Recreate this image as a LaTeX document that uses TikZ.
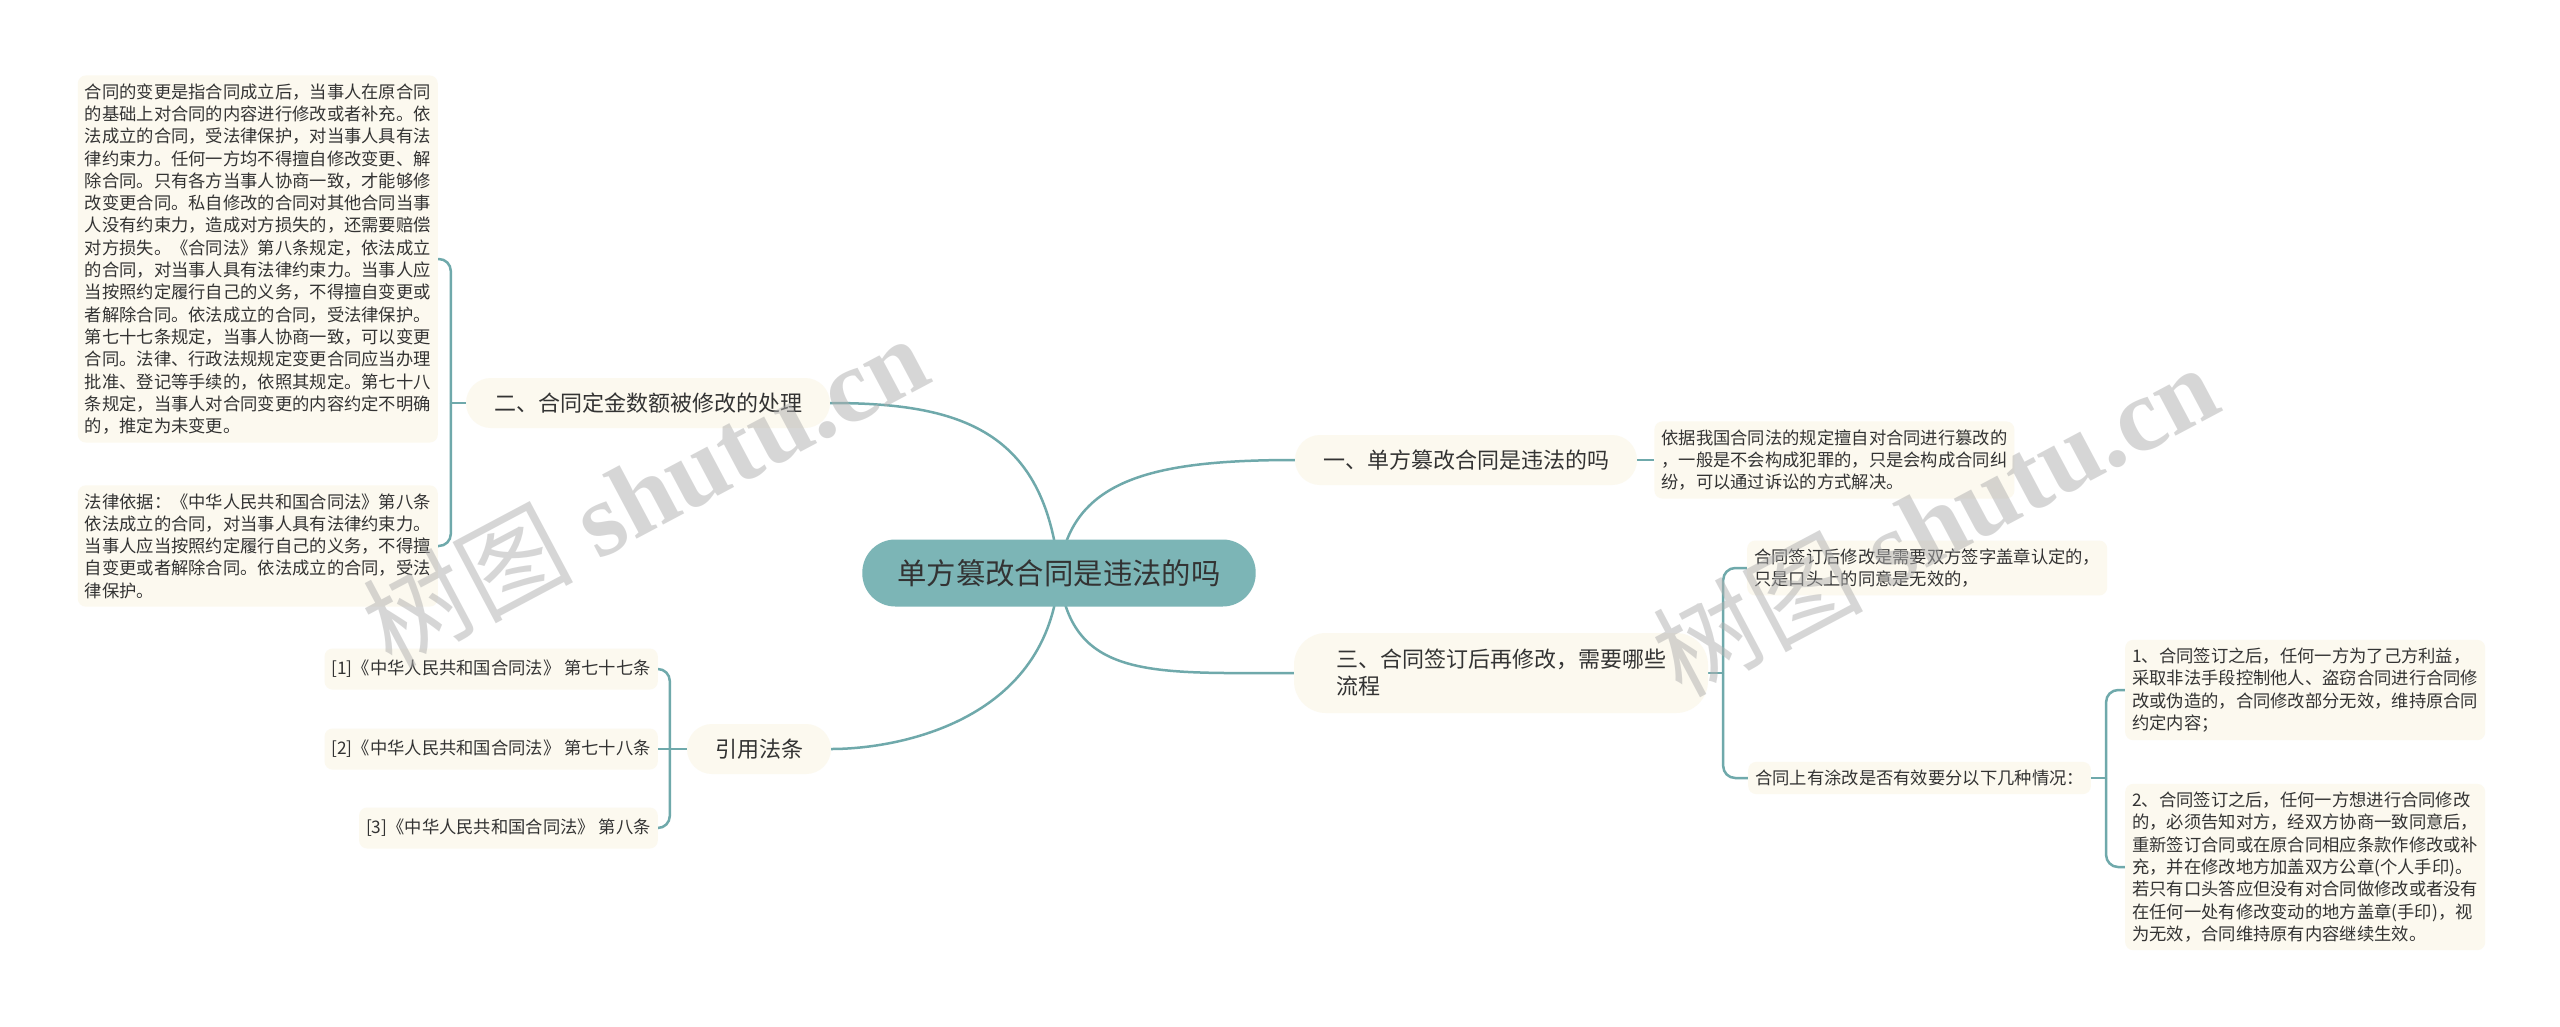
\documentclass[tikz,border=0pt]{standalone}
\usepackage{fontspec}
\usepackage{tikz}
\usetikzlibrary{positioning, backgrounds}
\newfontfamily\cjk{Noto Sans CJK SC}
\newfontfamily\wmserif{Liberation Serif}
\definecolor{tealroot}{RGB}{124,181,182}
\definecolor{tealline}{RGB}{111,169,171}
\definecolor{creamfill}{RGB}{252,249,239}
\definecolor{inkgray}{RGB}{51,51,51}
\definecolor{markgray}{RGB}{175,175,175}

\begin{document}
\begin{tikzpicture}[
        x=1pt, y=-1pt,
        rootbox/.style={rectangle, fill=tealroot, rounded corners=33pt, text=inkgray,
                        font=\cjk\fontsize{29.4}{34}\selectfont, inner xsep=35pt, minimum height=67pt},
        branchbox/.style={rectangle, fill=creamfill, rounded corners=25pt, text=inkgray, align=left,
                          font=\cjk\fontsize{22}{27}\selectfont, inner xsep=28pt, minimum height=50pt},
        leafbox/.style={rectangle, fill=creamfill, rounded corners=8pt, text=inkgray, align=left,
                        font=\cjk\fontsize{17.3}{22.3}\selectfont, inner xsep=7pt, inner ysep=8pt},
        citebox/.style={leafbox, minimum height=41pt},
        link/.style={draw=tealline, line width=2.5pt},
        bracket/.style={link, rounded corners=12pt},
        watermark/.style={text=markgray, opacity=0.5, rotate=28, font=\fontsize{105}{105}\selectfont}
    ]
        \useasboundingbox (0,0) rectangle (2560,1026);
        \node [rootbox] (root) at (1059,573) {单方篡改合同是违法的吗};
        \node [branchbox] (b2) at (648,403) {二、合同定金数额被修改的处理};
        \node [branchbox] (b1) at (1466,460) {一、单方篡改合同是违法的吗};
        \node [branchbox, inner xsep=42pt, rounded corners=32pt, minimum height=80pt] (b3) at (1501,673)
              {三、合同签订后再修改，需要哪些\\流程};
        \node [branchbox] (cite) at (759,749) {引用法条};
        % left side
        \node [leafbox, anchor=east] (c2a) at (438,259) {合同的变更是指合同成立后，当事人在原合同\\的基础上对合同的内容进行修改或者补充。依\\法成立的合同，受法律保护，对当事人具有法\\律约束力。任何一方均不得擅自修改变更、解\\除合同。只有各方当事人协商一致，才能够修\\改变更合同。私自修改的合同对其他合同当事\\人没有约束力，造成对方损失的，还需要赔偿\\对方损失。《合同法》第八条规定，依法成立\\的合同，对当事人具有法律约束力。当事人应\\当按照约定履行自己的义务，不得擅自变更或\\者解除合同。依法成立的合同，受法律保护。\\第七十七条规定，当事人协商一致，可以变更\\合同。法律、行政法规规定变更合同应当办理\\批准、登记等手续的，依照其规定。第七十八\\条规定，当事人对合同变更的内容约定不明确\\的，推定为未变更。};
        \node [leafbox, anchor=east] (c2b) at (438,546) {法律依据：《中华人民共和国合同法》第八条\\依法成立的合同，对当事人具有法律约束力。\\当事人应当按照约定履行自己的义务，不得擅\\自变更或者解除合同。依法成立的合同，受法\\律保护。};
        \node [citebox, anchor=east] (k1) at (658,669) {[1]《中华人民共和国合同法》 第七十七条};
        \node [citebox, anchor=east] (k2) at (658,749) {[2]《中华人民共和国合同法》 第七十八条};
        \node [citebox, anchor=east] (k3) at (658,828) {[3]《中华人民共和国合同法》 第八条};
        % right side
        \node [leafbox, right=17pt of b1] (c1a) {依据我国合同法的规定擅自对合同进行篡改的\\，一般是不会构成犯罪的，只是会构成合同纠\\纷，可以通过诉讼的方式解决。};
        \node [leafbox, anchor=west] (c3a) at (1747,568) {合同签订后修改是需要双方签字盖章认定的，\\只是口头上的同意是无效的，};
        \node [leafbox, anchor=west] (c3b) at (1748,778) {合同上有涂改是否有效要分以下几种情况：};
        \node [leafbox, anchor=west] (c3b1) at (2125,690) {1、合同签订之后，任何一方为了己方利益，\\采取非法手段控制他人、盗窃合同进行合同修\\改或伪造的，合同修改部分无效，维持原合同\\约定内容；};
        \node [leafbox, anchor=west] (c3b2) at (2125,867) {2、合同签订之后，任何一方想进行合同修改\\的，必须告知对方，经双方协商一致同意后，\\重新签订合同或在原合同相应条款作修改或补\\充，并在修改地方加盖双方公章(个人手印)。\\若只有口头答应但没有对合同做修改或者没有\\在任何一处有修改变动的地方盖章(手印)，视\\为无效，合同维持原有内容继续生效。};
        \begin{scope}[on background layer]
            \fill [white] (0,0) rectangle (2560,1026);
            \path [link] (root.center) .. controls (1045,430) and (960,403) .. (b2.east);
            \path [link] (root.center) .. controls (1070,480) and (1150,460) .. (b1.west);
            \path [link] (root.center) .. controls (1070,680) and (1150,673) .. (b3.west);
            \path [link] (root.center) .. controls (1050,720) and (900,749) .. (cite.east);
            \path [link] (b1) -- (c1a);
            \path [link] (b2.west) -- ++(-15,0) coordinate (j2);
            \path [bracket] (j2) |- (c2a.east);
            \path [bracket] (j2) |- (c2b.east);
            \path [link] (cite.west) -- ++(-17,0) coordinate (jk);
            \path [bracket] (jk) |- (k1.east);
            \path [bracket] (jk) |- (k3.east);
            \path [link] (jk) -- (k2.east);
            \path [link] (b3.east) -- ++(15,0) coordinate (j3);
            \path [bracket] (j3) |- (c3a.west);
            \path [bracket] (j3) |- (c3b.west);
            \path [link] (c3b.east) -- ++(15,0) coordinate (j3b);
            \path [bracket] (j3b) |- (c3b1.west);
            \path [bracket] (j3b) |- (c3b2.west);
        \end{scope}
        \node [watermark] (wm1) at (645,490) {\cjk 树图 \wmserif\bfseries shutu.cn};
        \node [watermark] (wm2) at (1935,519) {\cjk 树图 \wmserif\bfseries shutu.cn};
    \end{tikzpicture}
\end{document}
